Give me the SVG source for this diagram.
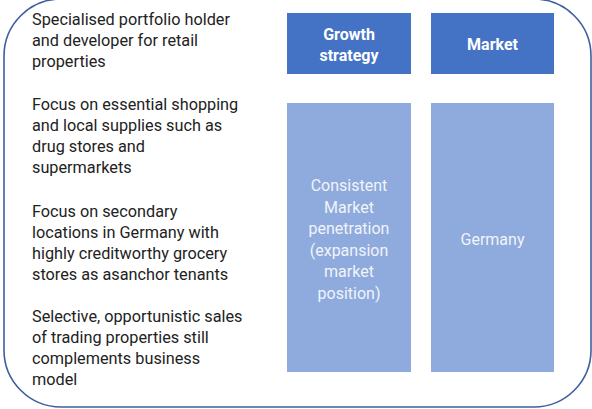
<svg xmlns="http://www.w3.org/2000/svg" width="592" height="409" viewBox="0 0 592 409">
<style>
.frame{fill:#ffffff;stroke:#3d5f9e;stroke-width:1.6}
.head{fill:#4472c4}
.body{fill:#8faadc}
.txt{font-family:Roboto,"Liberation Sans",sans-serif;font-size:16.25px;fill:#222222}
.ht{font-family:Roboto,"Liberation Sans",sans-serif;font-size:16px;font-weight:bold;fill:#ffffff;text-anchor:middle}
.bt{font-family:Roboto,"Liberation Sans",sans-serif;font-size:16px;fill:#f0f4fb;text-anchor:middle}
</style>
<rect width="592" height="409" fill="#ffffff"/>
<g id="frame">
<rect class="frame" x="4" y="-1" width="587" height="408" rx="57" ry="57"/>
</g>
<g id="left-text">
<text class="txt" x="32" y="24.5">Specialised portfolio holder</text>
<text class="txt" x="32" y="45.5">and developer for retail</text>
<text class="txt" x="32" y="66.5">properties</text>
<text class="txt" x="32" y="110">Focus on essential shopping</text>
<text class="txt" x="32" y="131">and local supplies such as</text>
<text class="txt" x="32" y="152">drug stores and</text>
<text class="txt" x="32" y="173">supermarkets</text>
<text class="txt" x="32" y="217">Focus on secondary</text>
<text class="txt" x="32" y="238">locations in Germany with</text>
<text class="txt" x="32" y="259">highly creditworthy grocery</text>
<text class="txt" x="32" y="280">stores as asanchor tenants</text>
<text class="txt" x="32" y="322">Selective, opportunistic sales</text>
<text class="txt" x="32" y="343">of trading properties still</text>
<text class="txt" x="32" y="364">complements business</text>
<text class="txt" x="32" y="385">model</text>
</g>
<g id="growth-header">
<rect class="head" x="287" y="13" width="124" height="61"/>
<text class="ht" x="349" y="40">Growth</text>
<text class="ht" x="349" y="61">strategy</text>
</g>
<g id="market-header">
<rect class="head" x="431" y="13" width="123" height="61"/>
<text class="ht" x="492.5" y="50">Market</text>
</g>
<g id="growth-body">
<rect class="body" x="287" y="103" width="124" height="269"/>
<text class="bt" x="349" y="191">Consistent</text>
<text class="bt" x="349" y="212.5">Market</text>
<text class="bt" x="349" y="234">penetration</text>
<text class="bt" x="349" y="255.5">(expansion</text>
<text class="bt" x="349" y="277">market</text>
<text class="bt" x="349" y="298.5">position)</text>
</g>
<g id="market-body">
<rect class="body" x="431" y="103" width="123" height="269"/>
<text class="bt" x="492.5" y="244.5">Germany</text>
</g>
<g id="connectors"/>
</svg>
